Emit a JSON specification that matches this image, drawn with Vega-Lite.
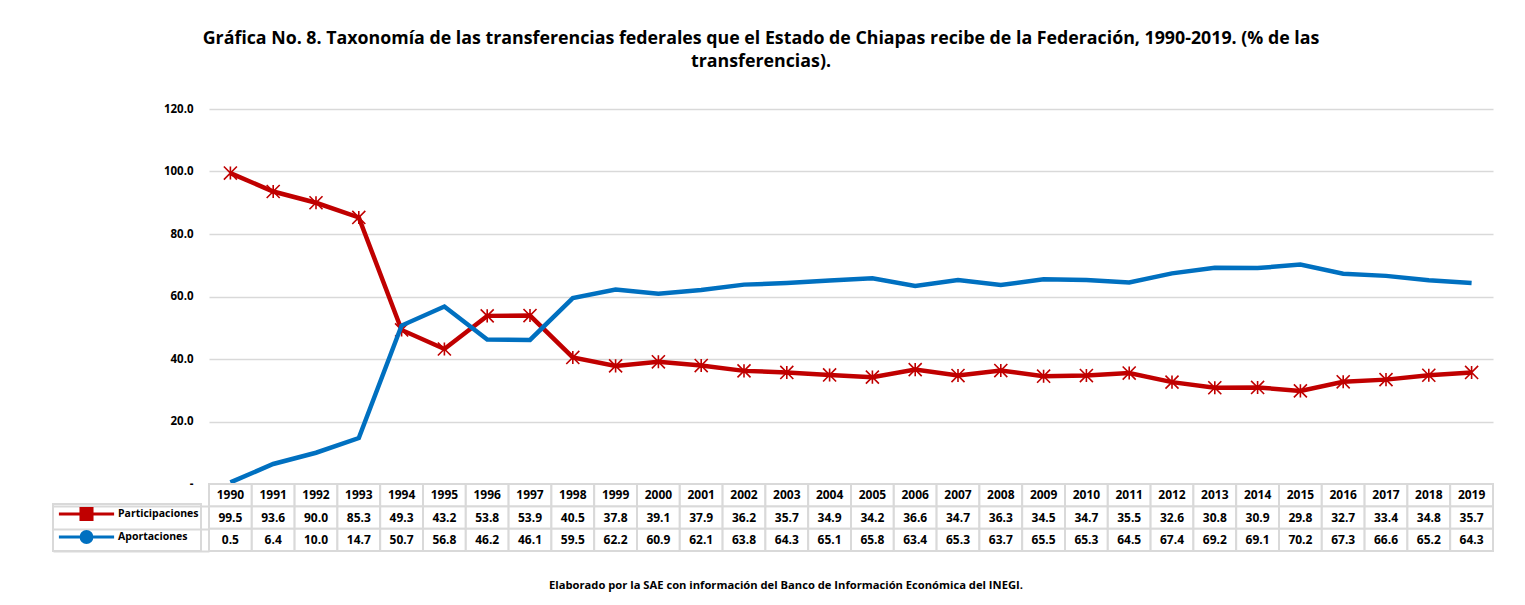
{
  "$schema": "https://vega.github.io/schema/vega-lite/v6.json",
  "padding": {"left": 52, "top": 30, "right": 33, "bottom": 5},
  "background": "white",
  "bounds": "flush",
  "config": {"font": "Open Sans", "view": {"stroke": null}, "concat": {"spacing": 0}, "legend": {"strokeWidth": 2}},
  "title": {
    "text": ["Gráfica No. 8. Taxonomía de las transferencias federales que el Estado de Chiapas recibe de la Federación, 1990-2019. (% de las", "transferencias)."],
    "fontSize": 17.8, "fontWeight": "bold", "lineHeight": 23, "anchor": "middle", "offset": 32, "dx": -12, "color": "black"
  },
  "datasets": {
    "d": [
      {"year": "1990", "Participaciones": 99.5, "Aportaciones": 0.5},
      {"year": "1991", "Participaciones": 93.6, "Aportaciones": 6.4},
      {"year": "1992", "Participaciones": 90.0, "Aportaciones": 10.0},
      {"year": "1993", "Participaciones": 85.3, "Aportaciones": 14.7},
      {"year": "1994", "Participaciones": 49.3, "Aportaciones": 50.7},
      {"year": "1995", "Participaciones": 43.2, "Aportaciones": 56.8},
      {"year": "1996", "Participaciones": 53.8, "Aportaciones": 46.2},
      {"year": "1997", "Participaciones": 53.9, "Aportaciones": 46.1},
      {"year": "1998", "Participaciones": 40.5, "Aportaciones": 59.5},
      {"year": "1999", "Participaciones": 37.8, "Aportaciones": 62.2},
      {"year": "2000", "Participaciones": 39.1, "Aportaciones": 60.9},
      {"year": "2001", "Participaciones": 37.9, "Aportaciones": 62.1},
      {"year": "2002", "Participaciones": 36.2, "Aportaciones": 63.8},
      {"year": "2003", "Participaciones": 35.7, "Aportaciones": 64.3},
      {"year": "2004", "Participaciones": 34.9, "Aportaciones": 65.1},
      {"year": "2005", "Participaciones": 34.2, "Aportaciones": 65.8},
      {"year": "2006", "Participaciones": 36.6, "Aportaciones": 63.4},
      {"year": "2007", "Participaciones": 34.7, "Aportaciones": 65.3},
      {"year": "2008", "Participaciones": 36.3, "Aportaciones": 63.7},
      {"year": "2009", "Participaciones": 34.5, "Aportaciones": 65.5},
      {"year": "2010", "Participaciones": 34.7, "Aportaciones": 65.3},
      {"year": "2011", "Participaciones": 35.5, "Aportaciones": 64.5},
      {"year": "2012", "Participaciones": 32.6, "Aportaciones": 67.4},
      {"year": "2013", "Participaciones": 30.8, "Aportaciones": 69.2},
      {"year": "2014", "Participaciones": 30.9, "Aportaciones": 69.1},
      {"year": "2015", "Participaciones": 29.8, "Aportaciones": 70.2},
      {"year": "2016", "Participaciones": 32.7, "Aportaciones": 67.3},
      {"year": "2017", "Participaciones": 33.4, "Aportaciones": 66.6},
      {"year": "2018", "Participaciones": 34.8, "Aportaciones": 65.2},
      {"year": "2019", "Participaciones": 35.7, "Aportaciones": 64.3}
    ]
  },
  "data": {"name": "d"},
  "transform": [{"fold": ["Participaciones", "Aportaciones"], "as": ["serie", "valor"]}],
  "spacing": 0,
  "resolve": {"legend": {"fill": "independent", "stroke": "independent", "shape": "independent"}},
  "vconcat": [
    {
      "width": 1284,
      "height": 375,
      "encoding": {
        "x": {"field": "year", "type": "ordinal", "scale": {"type": "point", "padding": 0.5}, "axis": null},
        "y": {
          "field": "valor", "type": "quantitative", "scale": {"domain": [0, 120]},
          "axis": {
            "values": [0, 20, 40, 60, 80, 100, 120],
            "labelExpr": "datum.value == 0 ? '-' : format(datum.value, '.1f')",
            "title": null, "domain": false, "ticks": false,
            "labelFontWeight": "bold", "labelFontSize": 11.5, "labelColor": "black", "labelPadding": 16,
            "gridColor": "#d9d9d9", "gridWidth": 1.5
          }
        },
        "color": {"field": "serie", "type": "nominal", "scale": {"domain": ["Participaciones", "Aportaciones"], "range": ["#c00000", "#0070c0"]}, "legend": null}
      },
      "layer": [
        {"transform": [{"filter": "datum.serie == 'Participaciones'"}], "mark": {"type": "line", "strokeWidth": 4.5}},
        {"transform": [{"filter": "datum.serie == 'Participaciones'"}], "mark": {"type": "point", "shape": "M-1,-1L1,1M-1,1L1,-1M0,-1L0,1", "size": 170, "filled": false, "strokeWidth": 1.6, "opacity": 1}},
        {"transform": [{"filter": "datum.serie == 'Aportaciones'"}], "mark": {"type": "line", "strokeWidth": 4.5}}
      ]
    },
    {
      "width": 1284,
      "height": 67,
      "title": {"text": "Elaborado por la SAE con información del Banco de Información Económica del INEGI.", "orient": "bottom", "fontSize": 11.2, "fontWeight": "bold", "offset": 28, "anchor": "middle", "dx": -65, "color": "black"},
      "encoding": {
        "x": {"field": "year", "type": "ordinal", "scale": {"type": "band", "paddingInner": 0, "paddingOuter": 0}, "axis": null}
      },
      "layer": [
        {
          "transform": [{"filter": "datum.year == '1990'"}],
          "mark": {"type": "point", "size": 10, "filled": true, "strokeWidth": 3, "opacity": 1},
          "encoding": {
            "y": {"field": "serie", "type": "nominal", "scale": {"domain": ["Año", "Participaciones", "Aportaciones"], "paddingInner": 0, "paddingOuter": 0}, "axis": {"values": ["Participaciones", "Aportaciones"], "labels": false, "tickBand": "extent", "tickSize": 156, "tickColor": "#d9d9d9", "tickWidth": 2, "domain": false, "title": null, "grid": false}},
            "fill": {"field": "serie", "type": "nominal", "scale": {"domain": ["Participaciones", "Aportaciones"], "range": ["#c00000", "#0070c0"]}, "legend": {"orient": "none", "legendX": -156, "legendY": 20, "title": null, "padding": 2.5, "rowPadding": -1, "symbolSize": 144, "symbolStrokeWidth": 3, "symbolOpacity": 1, "symbolOffset": 23.5, "labelOffset": 24, "labelFontSize": 10.5, "labelFontWeight": "bold", "labelColor": "black", "strokeColor": "#d9d9d9"}},
            "stroke": {"field": "serie", "type": "nominal", "scale": {"domain": ["Participaciones", "Aportaciones"], "range": ["#c00000", "#0070c0"]}, "legend": {"orient": "none", "legendX": -156, "legendY": 20, "title": null, "padding": 2.5, "rowPadding": -1, "symbolSize": 144, "symbolStrokeWidth": 3, "symbolOpacity": 1, "symbolOffset": 23.5, "labelOffset": 24, "labelFontSize": 10.5, "labelFontWeight": "bold", "labelColor": "black", "strokeColor": "#d9d9d9"}},
            "shape": {"field": "serie", "type": "nominal", "scale": {"domain": ["Participaciones", "Aportaciones"], "range": ["M-4.6,0H4.6M-0.92,-0.92H0.92V0.92H-0.92Z", "M-4.6,0H4.6M0.9,0A0.9,0.9 0 1 1 -0.9,0A0.9,0.9 0 1 1 0.9,0Z"]}, "legend": {"orient": "none", "legendX": -156, "legendY": 20, "title": null, "padding": 2.5, "rowPadding": -1, "symbolSize": 144, "symbolStrokeWidth": 3, "symbolOpacity": 1, "symbolOffset": 23.5, "labelOffset": 24, "labelFontSize": 10.5, "labelFontWeight": "bold", "labelColor": "black", "strokeColor": "#d9d9d9"}}
          }
        },
        {
          "mark": {"type": "rect", "fill": "white", "stroke": "#d9d9d9", "strokeWidth": 2},
          "encoding": {"y": {"field": "serie", "type": "nominal"}}
        },
        {
          "transform": [{"filter": "datum.serie == 'Participaciones'"}],
          "mark": {"type": "rect", "fill": "white", "stroke": "#d9d9d9", "strokeWidth": 2},
          "encoding": {"y": {"datum": "Año", "type": "nominal"}}
        },
        {
          "mark": {"type": "text", "fontSize": 12, "fontWeight": "bold", "color": "black"},
          "encoding": {"y": {"field": "serie", "type": "nominal"}, "text": {"field": "valor", "type": "quantitative", "format": ".1f"}}
        },
        {
          "transform": [{"filter": "datum.serie == 'Participaciones'"}],
          "mark": {"type": "text", "fontSize": 12, "fontWeight": "bold", "color": "black"},
          "encoding": {"y": {"datum": "Año", "type": "nominal"}, "text": {"field": "year", "type": "nominal"}}
        }
      ]
    }
  ]
}
